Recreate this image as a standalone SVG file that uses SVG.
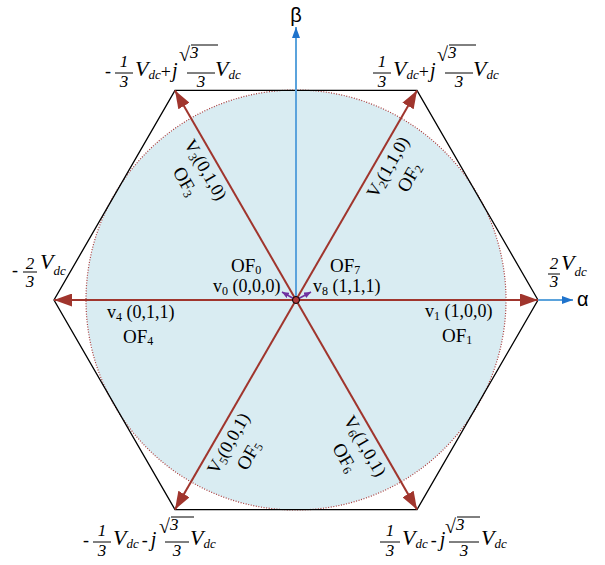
<svg xmlns="http://www.w3.org/2000/svg" width="605" height="565" viewBox="0 0 605 565">
<style>
text{font-family:'Liberation Serif','Times New Roman',serif;fill:#000}
.lab{font-size:18px}
.of{font-size:19px}
.num{font-size:17px;font-style:italic;text-anchor:middle}
.V{font-size:22px;font-style:italic}
.dc{font-size:13px;font-style:italic}
.op{font-size:18px}
.j{font-size:20px;font-style:italic}
.rad{font-size:20px}
.bar{stroke:#000;stroke-width:1}
.sym{font-family:'Liberation Sans',Arial,sans-serif;font-size:20px}
.vec{stroke:#a0352d;stroke-width:2;fill:none;marker-end:url(#ar)}
.axis{stroke:#5ba3dc;stroke-width:2;fill:none;marker-end:url(#ab)}
.zv{stroke:#7030a0;stroke-width:1.6;fill:none;marker-end:url(#ap)}
</style>
<defs>
<marker id="ar" viewBox="0 0 18 13" refX="18" refY="6.5" markerWidth="18" markerHeight="13" markerUnits="userSpaceOnUse" orient="auto"><path d="M0,0 L18,6.5 L0,13 z" fill="#a0352d"/></marker>
<marker id="ab" viewBox="0 0 11 8" refX="11" refY="4" markerWidth="11" markerHeight="8" markerUnits="userSpaceOnUse" orient="auto"><path d="M0,0 L11,4 L0,8 z" fill="#1f73cc"/></marker>
<marker id="ap" viewBox="0 0 7 6" refX="7" refY="3" markerWidth="7" markerHeight="6" markerUnits="userSpaceOnUse" orient="auto"><path d="M0,0 L7,3 L0,6 z" fill="#7030a0"/></marker>
</defs>
<rect width="605" height="565" fill="#fff"/>
<g id="circle"><circle cx="296" cy="300" r="210" fill="#d9ecf2" stroke="#a83a3a" stroke-width="1.2" stroke-dasharray="1 1.6"/></g>
<g id="hexagon"><polygon points="538,300 417,90.4 175,90.4 54,300 175,509.6 417,509.6" fill="none" stroke="#000" stroke-width="1.3"/></g>
<g id="connectors">
<line class="axis" x1="296" y1="300" x2="296" y2="27"/>
<line class="axis" x1="538" y1="300" x2="573" y2="300"/>
<line class="vec" x1="296" y1="300" x2="538" y2="300"/>
<line class="vec" x1="296" y1="300" x2="54" y2="300"/>
<line class="vec" x1="296" y1="300" x2="417" y2="90.4"/>
<line class="vec" x1="296" y1="300" x2="175" y2="90.4"/>
<line class="vec" x1="296" y1="300" x2="175" y2="509.6"/>
<line class="vec" x1="296" y1="300" x2="417" y2="509.6"/>
<line class="zv" x1="296" y1="300" x2="282" y2="292"/>
<line class="zv" x1="296" y1="300" x2="311" y2="292"/>
</g>
<g id="origin"><circle cx="296" cy="300" r="3.5" fill="#b03a3a" stroke="#000" stroke-width="1"/></g>
<g id="beta"><text class="sym" x="296" y="22" text-anchor="middle">β</text></g>
<g id="alpha"><text class="sym" x="577" y="306">α</text></g>
<g id="center-labels">
<text class="of" x="231" y="272">OF<tspan font-size="12" dy="2">0</tspan></text>
<text class="lab" x="213" y="292">v<tspan font-size="12" dy="3">0</tspan><tspan dy="-3"> (0,0,0)</tspan></text>
<text class="of" x="330" y="272">OF<tspan font-size="12" dy="2">7</tspan></text>
<text class="lab" x="313" y="292">v<tspan font-size="12" dy="3">8</tspan><tspan dy="-3"> (1,1,1)</tspan></text>
</g>
<g id="v1"><text class="lab" x="425" y="317">v<tspan font-size="12" dy="3">1</tspan><tspan dy="-3"> (1,0,0)</tspan></text>
<text class="of" x="442" y="342">OF<tspan font-size="12" dy="2">1</tspan></text></g>
<g id="v4"><text class="lab" x="107" y="318">v<tspan font-size="12" dy="3">4</tspan><tspan dy="-3"> (0,1,1)</tspan></text>
<text class="of" x="123" y="343">OF<tspan font-size="12" dy="2">4</tspan></text></g>
<g id="v2" transform="translate(296,300) rotate(-60)"><text class="lab" x="161" y="19" text-anchor="middle">V<tspan font-size="12" dy="3">2</tspan><tspan dy="-3">(1,1,0)</tspan></text>
<text class="of" x="163" y="43" text-anchor="middle">OF<tspan font-size="12" dy="2">2</tspan></text></g>
<g id="v3" transform="translate(296,300) rotate(60)"><text class="lab" x="-158" y="19" text-anchor="middle">V<tspan font-size="12" dy="3">3</tspan><tspan dy="-3">(0,1,0)</tspan></text>
<text class="of" x="-158" y="43" text-anchor="middle">OF<tspan font-size="12" dy="2">3</tspan></text></g>
<g id="v5" transform="translate(296,300) rotate(-60)"><text class="lab" x="-158" y="19" text-anchor="middle">V<tspan font-size="12" dy="3">5</tspan><tspan dy="-3">(0,0,1)</tspan></text>
<text class="of" x="-158" y="43" text-anchor="middle">OF<tspan font-size="12" dy="2">5</tspan></text></g>
<g id="v6" transform="translate(296,300) rotate(60)"><text class="lab" x="161" y="19" text-anchor="middle">V<tspan font-size="12" dy="3">6</tspan><tspan dy="-3">(1,0,1)</tspan></text>
<text class="of" x="161" y="43" text-anchor="middle">OF<tspan font-size="12" dy="2">6</tspan></text></g>
<g id="vertex-right">
<line class="bar" x1="548" y1="274" x2="560" y2="274"/>
<text class="num" x="554" y="269">2</text><text class="num" x="554" y="287">3</text>
<text class="V" x="561" y="270">V<tspan class="dc" dy="6">dc</tspan></text>
</g>
<g id="vertex-left">
<text class="op" x="12" y="276">-</text>
<line class="bar" x1="23" y1="272" x2="37" y2="272"/>
<text class="num" x="30" y="269">2</text><text class="num" x="30" y="287">3</text>
<text class="V" x="40" y="269">V<tspan class="dc" dy="6">dc</tspan></text>
</g>
<g id="vertex-top-left" transform="translate(115,73)">
<text class="op" x="-10" y="4">-</text>
<line class="bar" x1="0" y1="0" x2="18" y2="0"/>
<text class="num" x="9" y="-6">1</text><text class="num" x="9" y="14">3</text>
<text class="V" x="20" y="3">V<tspan class="dc" dy="3">dc</tspan><tspan class="op" font-style="normal" dy="-1">+</tspan><tspan class="j" dx="1" dy="-1">j</tspan></text>
<text class="rad" x="64" y="-12">√<tspan class="num" dy="-3" text-anchor="start">3</tspan></text>
<line class="bar" x1="76" y1="-28" x2="103" y2="-28"/>
<line class="bar" x1="72" y1="0" x2="100" y2="0"/>
<text class="num" x="86" y="14">3</text>
<text class="V" x="100" y="3">V<tspan class="dc" dy="3">dc</tspan></text>
</g>
<g id="vertex-top-right" transform="translate(373,73)">
<line class="bar" x1="0" y1="0" x2="18" y2="0"/>
<text class="num" x="9" y="-6">1</text><text class="num" x="9" y="14">3</text>
<text class="V" x="20" y="3">V<tspan class="dc" dy="3">dc</tspan><tspan class="op" font-style="normal" dy="-1">+</tspan><tspan class="j" dx="1" dy="-1">j</tspan></text>
<text class="rad" x="64" y="-12">√<tspan class="num" dy="-3" text-anchor="start">3</tspan></text>
<line class="bar" x1="76" y1="-28" x2="103" y2="-28"/>
<line class="bar" x1="72" y1="0" x2="100" y2="0"/>
<text class="num" x="86" y="14">3</text>
<text class="V" x="100" y="3">V<tspan class="dc" dy="3">dc</tspan></text>
</g>
<g id="vertex-bottom-left" transform="translate(93,542)">
<text class="op" x="-10" y="4">-</text>
<line class="bar" x1="0" y1="0" x2="18" y2="0"/>
<text class="num" x="9" y="-6">1</text><text class="num" x="9" y="14">3</text>
<text class="V" x="20" y="3">V<tspan class="dc" dy="3">dc</tspan><tspan class="op" font-style="normal" dx="3" dy="-2">-</tspan><tspan class="j" dx="3">j</tspan></text>
<text class="rad" x="66" y="-9">√<tspan class="num" dy="-3" text-anchor="start">3</tspan></text>
<line class="bar" x1="78" y1="-25" x2="101" y2="-25"/>
<line class="bar" x1="72" y1="0" x2="96" y2="0"/>
<text class="num" x="84" y="14">3</text>
<text class="V" x="97" y="3">V<tspan class="dc" dy="3">dc</tspan></text>
</g>
<g id="vertex-bottom-right" transform="translate(380,542)">
<line class="bar" x1="0" y1="0" x2="20" y2="0"/>
<text class="num" x="10" y="-6">1</text><text class="num" x="10" y="14">3</text>
<text class="V" x="22" y="3">V<tspan class="dc" dy="3">dc</tspan><tspan class="op" font-style="normal" dx="3" dy="-2">-</tspan><tspan class="j" dx="3">j</tspan></text>
<text class="rad" x="65" y="-9">√<tspan class="num" dy="-3" text-anchor="start">3</tspan></text>
<line class="bar" x1="77" y1="-25" x2="100" y2="-25"/>
<line class="bar" x1="69" y1="0" x2="99" y2="0"/>
<text class="num" x="84" y="14">3</text>
<text class="V" x="101" y="3">V<tspan class="dc" dy="3">dc</tspan></text>
</g>
</svg>
